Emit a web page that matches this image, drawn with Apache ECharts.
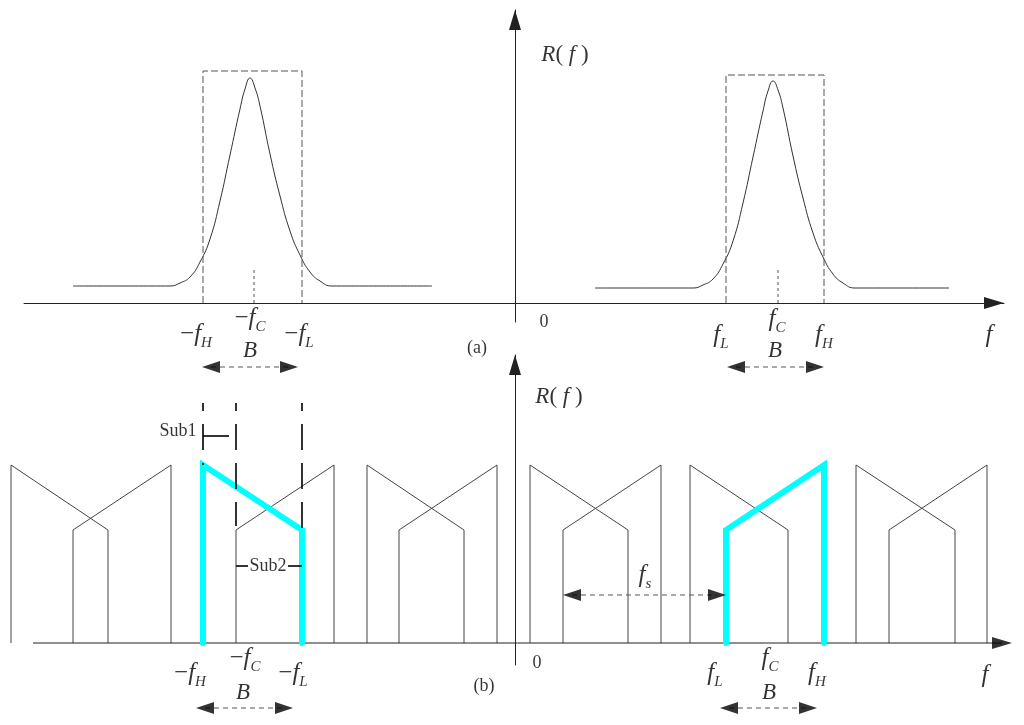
<!DOCTYPE html>
<html><head><meta charset="utf-8">
<script src="https://cdn.jsdelivr.net/npm/echarts@6/dist/echarts.min.js"></script>
<style>html,body{margin:0;padding:0;background:#fff}#c{width:1024px;height:725px}</style>
</head><body><div id="c"></div>
<script>
// ===== Panel (a): continuous spectrum =====
const pulseLeftX  = [-442,-345,-335,-325,-315,-305,-295,-285,-275,-270,-265,-260,-255,-245,-235,-225,-215,-205,-195,-183,-83];
const pulseLeftY  = [  17,  17,  20,  26,  41,  64, 102, 148, 194, 214, 225, 215, 197, 149, 107,  72,  48,  31,  22,  17, 17];
const pulseRightX = [  80, 178, 188, 198, 208, 218, 228, 238, 248, 253, 258, 263, 268, 278, 288, 298, 308, 318, 328, 340, 434];
const pulseRightY = [  15,  15,  18,  24,  39,  62, 100, 146, 192, 212, 222, 213, 195, 147, 105,  70,  46,  29,  20,  15,  15];
const bandEdgesA  = [[-312, -213], [211, 309]];   // [-fH,-fL], [fL,fH]
const bandTopA    = [232, 228];
const centerA     = [-261, 263];                  // -fC, fC
const centerTickA = 34;
const bArrowA     = [[-313, -217], [212, 309]];
const bArrowLevelA = -64;

// ===== Panel (b): sampled spectrum replicas =====
const descStart = [-504, -312, -148,  15, 175, 341];
const descEnd   = [-407, -213,  -51, 113, 273, 440];
const ascStart  = [-442, -279, -116,  48, 211, 374];
const ascEnd    = [-344, -181,  -18, 146, 309, 472];
const levelHigh = 178, levelLow = 113;
const cyanDesc = 1, cyanAsc = 4;                  // highlighted replicas
const guideX = [-312, -279, -213];
const guideTop = 240;
const guideBottom = [178, 117, 114];
const sub1Span = [-312, -286], sub1Level = 207;
const sub2Spans = [[-279, -267], [-227, -213]], sub2Level = 77;
const fsSpan = [48, 211], fsLevel = 48;
const bArrowB = [[-319, -222], [205, 302]];
const bArrowLevelB = -65;
const axisSpanB = [-482, 497];

// ===== Text labels =====
const labelsA = [
  ['{m|−}{i|f}{s|H}', -319, -33.5], ['{m|−}{i|f}{s|C}', -265, -17.5], ['{m|−}{i|f}{s|L}', -216, -33.5],
  ['{b|B}', -265, -47.5], ['{r|(a)}', -38, -45], ['{r|0}', 29, -19],
  ['{i|f}{s|L}', 206, -34], ['{i|f}{s|C}', 262, -18.5], ['{i|f}{s|H}', 309, -34],
  ['{b|B}', 260, -47.5], ['{i|f}', 474, -32.5], ['{ri|R}{rm|(}{ri| f }{rm|)}', 50, 248.5]
];
const labelsB = [
  ['{m|−}{i|f}{s|H}', -325, -32], ['{m|−}{i|f}{s|C}', -270, -17.5], ['{m|−}{i|f}{s|L}', -222, -32],
  ['{b|B}', -272, -49.5], ['{r|(b)}', -31, -43], ['{r|0}', 22, -20],
  ['{i|f}{s|L}', 200, -32.5], ['{i|f}{s|C}', 255, -17.5], ['{i|f}{s|H}', 302, -32.5],
  ['{b|B}', 254, -49.5], ['{i|f}', 470, -32.5], ['{ri|R}{rm|(}{ri| f }{rm|)}', 44, 246.5],
  ['{r|Sub1}', -337, 211.5], ['{r|Sub2}', -247, 77], ['{i|f}{s|s}', 130, 65.5]
];

const FONT = 'Liberation Serif';
const RICH = {
  m:  {fontFamily: FONT, fontSize: 25, lineHeight: 25, verticalAlign: 'top', color: '#000'},
  i:  {fontFamily: FONT, fontSize: 25, fontStyle: 'italic', lineHeight: 25, verticalAlign: 'top', color: '#000'},
  s:  {fontFamily: FONT, fontSize: 15, fontStyle: 'italic', lineHeight: 29, verticalAlign: 'bottom', color: '#000'},
  b:  {fontFamily: FONT, fontSize: 23, fontStyle: 'italic', lineHeight: 25, color: '#000'},
  ri: {fontFamily: FONT, fontSize: 23, fontStyle: 'italic', lineHeight: 25, color: '#000'},
  rm: {fontFamily: FONT, fontSize: 23, lineHeight: 25, color: '#000'},
  r:  {fontFamily: FONT, fontSize: 18, lineHeight: 22, color: '#000'}
};
const GRAY = '#444';
const zip = (xs, ys) => xs.map((x, i) => [x, ys[i]]);

function poly(g, pts, lineStyle, extra) {
  return Object.assign({type: 'line', xAxisIndex: g, yAxisIndex: g, data: pts, symbol: 'none',
    clip: false, silent: true, animation: false, lineStyle: lineStyle}, extra || {});
}
function heads(g, items, size) {
  return {type: 'scatter', xAxisIndex: g, yAxisIndex: g, symbol: 'triangle', symbolSize: size || [12, 18],
    data: items.map(([x, y, rot]) => ({value: [x, y], symbolRotate: rot})),
    itemStyle: {color: '#000'}, clip: false, silent: true, z: 8};
}
function arrowHeads(g, spans, level) {
  const d = [];
  spans.forEach(([a, b]) => { d.push([a + 9, level, 90]); d.push([b - 9, level, -90]); });
  return heads(g, d);
}
function labels(g, items) {
  return {type: 'scatter', xAxisIndex: g, yAxisIndex: g, symbolSize: 1, clip: false, silent: true, z: 10,
    itemStyle: {color: 'rgba(0,0,0,0)'},
    data: items.map(([t, x, y]) => ({value: [x, y], label: {formatter: t}})),
    label: {show: true, position: 'inside', rich: RICH, color: '#000'}};
}

const series = [];
// Panel (a)
series.push(poly(0, zip(pulseLeftX, pulseLeftY), {color: '#333', width: 1}, {smooth: 0.5}));
series.push(poly(0, zip(pulseRightX, pulseRightY), {color: '#333', width: 1}, {smooth: 0.5}));
bandEdgesA.forEach(([a, b], i) => {
  series.push(poly(0, [[a, 0], [a, bandTopA[i]], [b, bandTopA[i]], [b, 0]], {color: '#555', width: 1, type: [7, 3]}));
  series.push(poly(0, [[centerA[i], 0], [centerA[i], centerTickA]], {color: '#555', width: 1, type: [3, 3]}));
});
bArrowA.forEach(([a, b]) => series.push(poly(0, [[a + 9, bArrowLevelA], [b - 9, bArrowLevelA]], {color: '#555', width: 1, type: [5, 4]})));
series.push(arrowHeads(0, bArrowA, bArrowLevelA));
series.push(labels(0, labelsA));

// Panel (b)
series.push(poly(1, [[axisSpanB[0], 0], [axisSpanB[1] - 10, 0]], {color: '#222', width: 1}));
series.push(heads(1, [[axisSpanB[1] - 10, 0, -90]], [12, 20]));
descStart.forEach((x0, i) => {
  const x1 = descEnd[i];
  const hl = i === cyanDesc;
  series.push(poly(1, [[x0, 0], [x0, levelHigh], [x1, levelLow], [x1, 0]],
    hl ? {color: '#00FFFF', width: 6, cap: 'round', join: 'miter'} : {color: GRAY, width: 1}, {z: hl ? 5 : 2}));
});
ascStart.forEach((x0, i) => {
  const x1 = ascEnd[i];
  const hl = i === cyanAsc;
  series.push(poly(1, [[x0, 0], [x0, levelLow], [x1, levelHigh], [x1, 0]],
    hl ? {color: '#00FFFF', width: 6, cap: 'round', join: 'miter'} : {color: GRAY, width: 1}, {z: hl ? 5 : 2}));
});
guideX.forEach((x, i) => series.push(poly(1, [[x, guideTop], [x, guideBottom[i]]],
  {color: '#000', width: 1.6, type: [26, 13], dashOffset: 18}, {z: 6})));
series.push(poly(1, [[sub1Span[0], sub1Level], [sub1Span[1], sub1Level]], {color: '#000', width: 1.6}, {z: 6}));
sub2Spans.forEach(([a, b]) => series.push(poly(1, [[a, sub2Level], [b, sub2Level]], {color: '#000', width: 1.6}, {z: 6})));
series.push(poly(1, [[fsSpan[0] + 9, fsLevel], [fsSpan[1] - 9, fsLevel]], {color: '#555', width: 1, type: [5, 4]}));
series.push(arrowHeads(1, [fsSpan], fsLevel));
bArrowB.forEach(([a, b]) => series.push(poly(1, [[a + 9, bArrowLevelB], [b - 9, bArrowLevelB]], {color: '#555', width: 1, type: [5, 4]})));
series.push(arrowHeads(1, bArrowB, bArrowLevelB));
series.push(labels(1, labelsB));

function axis(g, min, max, showLine) {
  return {gridIndex: g, type: 'value', min: min, max: max,
    axisLine: {show: showLine, onZero: true, symbol: ['none', 'triangle'], symbolSize: [12, 20], symbolOffset: [0, -10],
      lineStyle: {color: '#222', width: 1}},
    axisTick: {show: false}, axisLabel: {show: false}, splitLine: {show: false}};
}

const chart = echarts.init(document.getElementById('c'), null, {renderer: 'canvas'});
chart.setOption({
  animation: false,
  backgroundColor: '#fff',
  grid: [
    {left: 24, right: 20, top: 10, height: 312, containLabel: false, outerBoundsMode: 'none'},
    {left: 11, right: 12, top: 355, height: 310, containLabel: false, outerBoundsMode: 'none'}
  ],
  xAxis: [axis(0, -491, 489, true), axis(1, -504, 497, false)],
  yAxis: [axis(0, -19, 293, true), axis(1, -22, 288, true)],
  series: series
});
</script></body></html>
